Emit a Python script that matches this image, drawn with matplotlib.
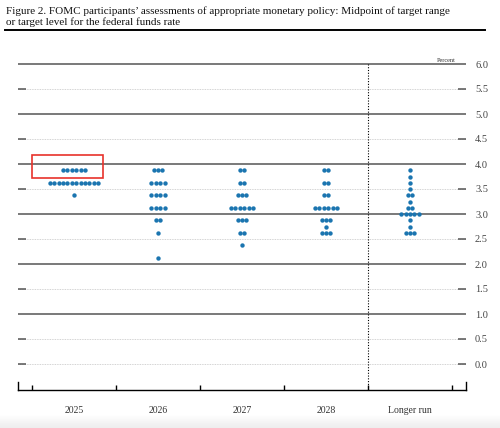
import numpy as np
import matplotlib
matplotlib.use("Agg")
import matplotlib.pyplot as plt
from matplotlib.lines import Line2D
from matplotlib.patches import Rectangle

plt.rcParams['font.family'] = ['Liberation Serif', 'DejaVu Serif']

categories = ["2025", "2026", "2027", "2028", "Longer run"]

# midpoint of target range for each dot row, and how many participants sit on it
rates_2025 = [3.875, 3.625, 3.375]
counts_2025 = [6, 12, 1]
rates_2026 = [3.875, 3.625, 3.375, 3.125, 2.875, 2.625, 2.125]
counts_2026 = [3, 4, 4, 4, 2, 1, 1]
rates_2027 = [3.875, 3.625, 3.375, 3.125, 2.875, 2.625, 2.375]
counts_2027 = [2, 2, 3, 6, 3, 2, 1]
rates_2028 = [3.875, 3.625, 3.375, 3.125, 2.875, 2.75, 2.625]
counts_2028 = [2, 2, 2, 6, 3, 1, 3]
rates_lr = [3.875, 3.75, 3.625, 3.5, 3.375, 3.25, 3.125, 3.0, 2.875, 2.75, 2.625]
counts_lr = [1, 1, 1, 1, 2, 1, 2, 5, 1, 1, 3]

all_rates = [rates_2025, rates_2026, rates_2027, rates_2028, rates_lr]
all_counts = [counts_2025, counts_2026, counts_2027, counts_2028, counts_lr]

yticks = np.arange(0, 6.01, 0.5)

title_lines = ["Figure 2. FOMC participants\u2019 assessments of appropriate monetary policy: Midpoint of target range",
               "or target level for the federal funds rate"]

fig = plt.figure(figsize=(5, 4.28), dpi=100)

# faint grey fade along the bottom edge of the screenshot
bg = fig.add_axes([0, 0, 1, 14/428], zorder=-5)
bg.imshow(np.linspace(0.93, 1.0, 20).reshape(-1, 1), cmap='gray', vmin=0, vmax=1,
          aspect='auto', origin='lower', extent=[0, 1, 0, 1])
bg.axis('off')

ax = fig.add_axes([18/500, 38/428, 448/500, 331/428])
x0, x1 = -0.6667, 4.6667
ax.set_xlim(x0, x1)
ax.set_ylim(-0.52, 6.1)
ax.patch.set_alpha(0)

# grid lines: solid at whole percents, dotted at halves with short end marks
for v in yticks:
    if v >= 1 and v == int(v):
        ax.axhline(v, color='#555555', lw=1.1, zorder=1)
    else:
        ax.axhline(v, color='#c4c4c4', lw=0.6, ls=(0, (1, 1)), zorder=1)
        ax.hlines(v, x0, x0 + 0.095, color='#555555', lw=1.1, zorder=1)
        ax.hlines(v, x1 - 0.095, x1, color='#555555', lw=1.1, zorder=1)

ax.vlines(3.5, -0.52, 6.0, color='black', lw=0.8, ls=(0, (1, 1.5)), zorder=1)

step = 0.0524
for i, (rates, counts) in enumerate(zip(all_rates, all_counts)):
    for r, n in zip(rates, counts):
        xs = i + (np.arange(n) - (n - 1) / 2) * step
        ax.scatter(xs, np.full(n, r), s=10, color='#1b75b0', lw=0, zorder=3)

ax.add_patch(Rectangle((-0.5, 3.726), 0.845, 0.454, fill=False,
                       edgecolor='#e8322b', lw=1.2, zorder=4))

ax.spines['top'].set_visible(False)
ax.spines['bottom'].set_linewidth(1.0)
for s in ['left', 'right']:
    ax.spines[s].set_bounds(-0.52, -0.36)
    ax.spines[s].set_linewidth(1.0)

ax.set_xticks(range(len(categories)))
ax.set_xticklabels(categories, fontsize=7, color='#333333')
ax.tick_params(axis='x', which='major', length=0, pad=11.5)
ax.set_xticks(np.arange(-0.5, 4.6, 1.0), minor=True)
ax.tick_params(axis='x', which='minor', direction='in', length=3.6, width=1.0)

ax.yaxis.tick_right()
ax.set_yticks(yticks)
ax.set_yticklabels([f"{v:.1f}" for v in yticks], fontsize=7.5, color='#444444')
ax.tick_params(axis='y', length=0, pad=6.5)

ax.text(4.548, 6.03, "Percent", fontsize=4.5, ha='right', va='bottom', color='#333333')

for k, line in enumerate(title_lines):
    fig.text(0.012, 1 - (14 + 11 * k) / 428, line, ha='left', va='baseline',
             fontsize=8.05, color='#111111')
fig.add_artist(Line2D([5/500, 485/500], [1 - 30/428] * 2, color='black', lw=1.4))

fig.savefig("out.png", dpi=100)
